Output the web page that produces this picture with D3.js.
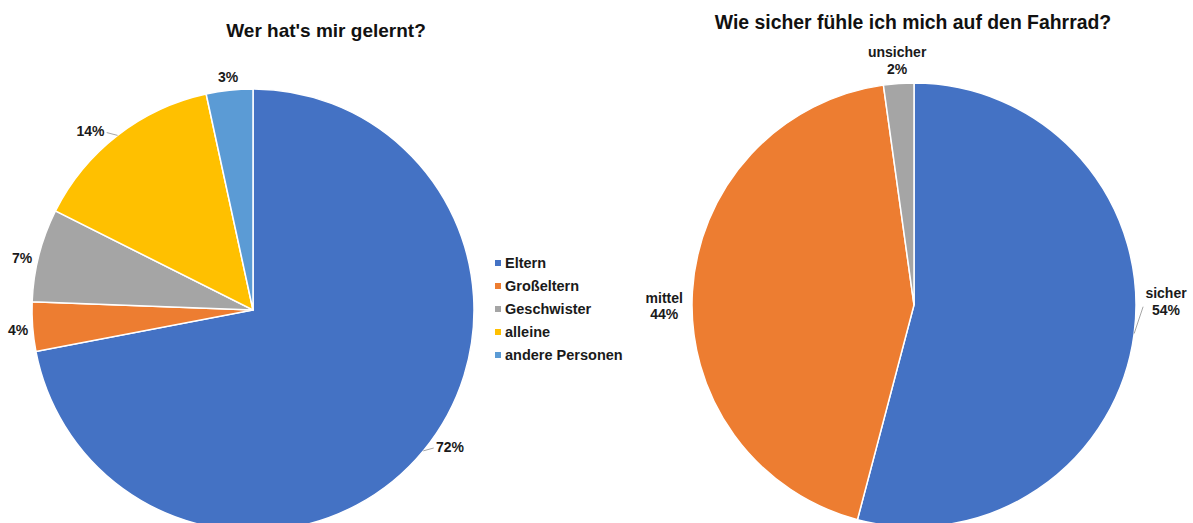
<!DOCTYPE html>
<html>
<head>
<meta charset="utf-8">
<script src="https://cdn.jsdelivr.net/npm/d3@7"></script>
<style>
  body { margin: 0; background: #fff; }
  svg { display: block; font-family: "Liberation Sans", Arial, sans-serif; }
  .title { font-size: 19px; font-weight: bold; fill: #111; }
  .title2 { font-size: 19.4px; font-weight: bold; fill: #111; }
  .lbl { font-size: 14px; font-weight: bold; fill: #1a1a1a; }
  .leg { font-size: 14.5px; font-weight: bold; fill: #1a1a1a; }
  .leader { stroke: #a6a6a6; stroke-width: 1; fill: none; }
</style>
</head>
<body>
<svg width="1193" height="523"></svg>
<script>
// left chart: who taught me (shares in %)
var teachCategories = ["Eltern", "Großeltern", "Geschwister", "alleine", "andere Personen"];
var teachValues = [72.0, 3.6, 6.8, 14.2, 3.4];
var teachColors = ["#4472C4", "#ED7D31", "#A5A5A5", "#FFC000", "#5B9BD5"];

// right chart: how safe on the bike
var safeCategories = ["sicher", "mittel", "unsicher"];
var safeValues = [54.1, 43.7, 2.2];
var safeColors = ["#4472C4", "#ED7D31", "#A5A5A5"];

var svg = d3.select("svg");

// small nudges so labels sit like the excel "best fit" placement
var labelNudge = {
	"Eltern": {shift: -4.6, extra: 0, leader: true},
	"Großeltern": {shift: -0.9, extra: 0},
	"Geschwister": {shift: -1.9, extra: 0},
	"alleine": {shift: -4.7, extra: 1, leader: true},
	"andere Personen": {shift: 0, extra: 0},
	"sicher": {shift: -7.9, extra: 5, leader: true},
	"mittel": {shift: -3.9, extra: 5},
	"unsicher": {shift: 0, extra: 1}
};

function drawPie(cx, cy, r, cats, vals, colors, showName) {
	var g = svg.append("g").attr("transform", "translate(" + cx + "," + cy + ")");
	var pie = d3.pie().sort(null).value(function (d) { return d.value; });
	var arc = d3.arc().innerRadius(0).outerRadius(r);
	var data = cats.map(function (c, i) { return {name: c, value: vals[i], color: colors[i]}; });
	var total = d3.sum(vals);
	var arcs = pie(data);

	g.selectAll(".slice")
		.data(arcs)
		.enter()
		.append("path")
		.attr("class", "slice")
		.attr("d", arc)
		.attr("fill", function (d) { return d.data.color; })
		.attr("stroke", "#fff")
		.attr("stroke-width", 1.5);

	arcs.forEach(function (d) {
		var nudge = labelNudge[d.data.name] || {shift: 0, extra: 0};
		var mid = (d.startAngle + d.endAngle) / 2;
		var pct = Math.round(d.data.value / total * 100) + "%";
		var lines = showName ? [d.data.name, pct] : [pct];
		var lh = 16.5;

		var t = g.append("text")
			.attr("class", "lbl")
			.attr("text-anchor", "middle");
		lines.forEach(function (s, i) {
			t.append("tspan").attr("x", 0).attr("dy", i === 0 ? 0 : lh).text(s);
		});
		var bb = t.node().getBBox();
		var w = bb.width, h = lines.length * lh - 3;

		var a = mid + nudge.shift * Math.PI / 180;
		var dist = r + 4 + nudge.extra + Math.abs(Math.sin(a)) * w / 2 + Math.abs(Math.cos(a)) * h / 2;
		var lx = Math.sin(a) * dist, ly = -Math.cos(a) * dist;
		// baseline of first line so the block is vertically centred
		var firstBase = ly - h / 2 + 10.5;
		t.attr("transform", "translate(" + lx + "," + firstBase + ")");

		if (nudge.leader) {
			var px = Math.sin(mid) * r, py = -Math.cos(mid) * r;
			var ex = lx + (lx > 0 ? -w / 2 - 2 : w / 2 + 2);
			var ey = showName ? ly + 4 : ly;
			g.append("path")
				.attr("class", "leader")
				.attr("d", "M" + px + "," + py + "L" + ex + "," + ey);
		}
	});
}

drawPie(253, 310, 221, teachCategories, teachValues, teachColors, false);
drawPie(914, 305, 222, safeCategories, safeValues, safeColors, true);

svg.append("text")
	.attr("class", "title")
	.attr("x", 326).attr("y", 37)
	.attr("text-anchor", "middle")
	.text("Wer hat's mir gelernt?");

svg.append("text")
	.attr("class", "title2")
	.attr("x", 913).attr("y", 29)
	.attr("text-anchor", "middle")
	.text("Wie sicher fühle ich mich auf den Fahrrad?");

// legend for the left chart
var legend = svg.append("g").attr("transform", "translate(495,263)");
var item = legend.selectAll(".item")
	.data(teachCategories)
	.enter()
	.append("g")
	.attr("class", "item")
	.attr("transform", function (d, i) { return "translate(0," + (i * 23) + ")"; });

item.append("rect")
	.attr("x", 0).attr("y", -3)
	.attr("width", 6).attr("height", 6)
	.attr("fill", function (d, i) { return teachColors[i]; });

item.append("text")
	.attr("class", "leg")
	.attr("x", 10).attr("y", 5)
	.text(function (d) { return d; });
</script>
</body>
</html>
